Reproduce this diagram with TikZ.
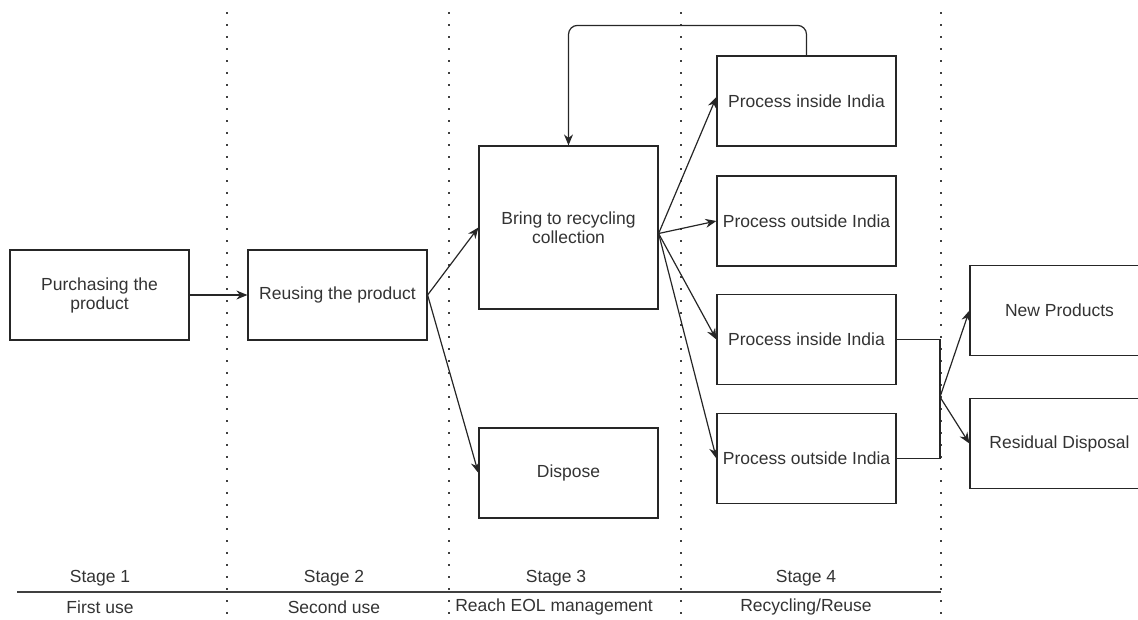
\documentclass[tikz,border=0pt]{standalone}
\usepackage{fontspec}
\setmainfont{Liberation Sans}
\usetikzlibrary{arrows.meta}
\definecolor{txt}{HTML}{333333}
\tikzset{
  box/.style={draw=black!85, line width=1.2pt, minimum width=179pt, minimum height=90pt, align=center, text=txt, font=\fontsize{17.5}{19}\selectfont, inner sep=2pt},
  conn/.style={draw=black!85, line width=1.2pt, -{Stealth[length=11pt,width=9pt]}},
  plain/.style={draw=black!85, line width=1.2pt},
  sep/.style={draw=black!75, line width=2pt, dash pattern=on 2pt off 10pt},
  lbl/.style={text=txt, font=\fontsize{17.5}{20}\selectfont, inner sep=0pt}
}
\begin{document}
\begin{tikzpicture}[x=1pt,y=-1pt]
\clip (0,0) rectangle (1138,619);
\useasboundingbox (0,0) rectangle (1138,619);
% separators
\foreach \xx in {227,449,681,941} \draw[sep] (\xx,12) -- (\xx,619);
% boxes
\node[box] (pur) at (99.5,295) {Purchasing the\\product};
\node[box] (reu) at (337.5,295) {Reusing the product};
\node[box, minimum height=163pt] (bri) at (568.5,227.5) {Bring to recycling\\collection};
\node[box] (dis) at (568.5,473) {Dispose};
\node[box] (pi1) at (806.5,101) {Process inside India};
\node[box] (po1) at (806.5,221) {Process outside India};
\node[box] (pi2) at (806.5,339.5) {Process inside India};
\node[box] (po2) at (806.5,458.5) {Process outside India};
\node[box] (np) at (1059.5,310.5) {New Products};
\node[box] (rd) at (1059.5,443.5) {Residual Disposal};
% connectors
\draw[conn] (pur.east) -- (reu.west);
\draw[conn] (reu.east) -- (bri.west);
\draw[conn] (reu.east) -- (dis.west);
\coordinate (bo) at ([yshift=-6pt]bri.east);
\draw[conn] (bo) -- ([yshift=4pt]pi1.west);
\draw[conn] (bo) -- (po1.west);
\draw[conn] (bo) -- (pi2.west);
\draw[conn] (bo) -- (po2.west);
\draw[conn, rounded corners=9pt] (pi1.north) -- ++(0,-30) -| (bri.north);
\coordinate (j) at (940,397);
\draw[plain] (pi2.east) -| (j) |- (po2.east);
\draw[conn] (j) -- (np.west);
\draw[conn] (j) -- (rd.west);
% stage table
\draw[draw=black!75, line width=2pt] (17,592) -- (941,592);
\node[lbl] (s1) at (100,578) {Stage 1};
\node[lbl] (s2) at (334,578) {Stage 2};
\node[lbl] (s3) at (556,578) {Stage 3};
\node[lbl] (s4) at (806,578) {Stage 4};
\node[lbl] (u1) at (100,607) {First use};
\node[lbl] (u2) at (334,607) {Second use};
\node[lbl] (u3) at (554,607) {Reach EOL management};
\node[lbl] (u4) at (806,607) {Recycling/Reuse};
\end{tikzpicture}
\end{document}
